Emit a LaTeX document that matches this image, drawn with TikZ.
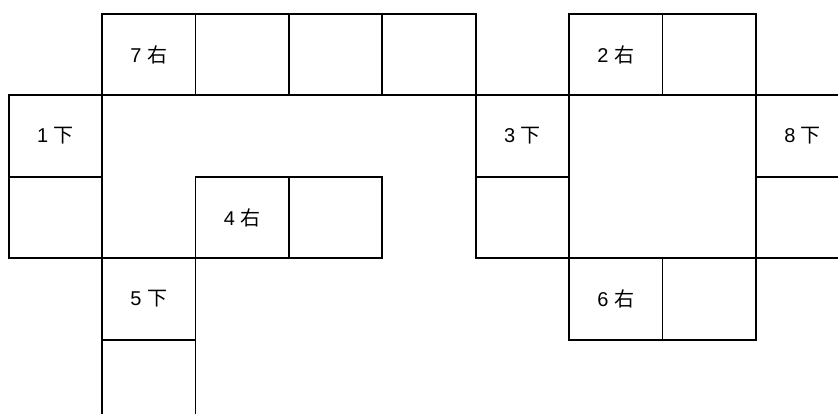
\documentclass[tikz,border=0pt]{standalone}
\usepackage{fontspec}
\setmainfont{Liberation Sans}
\newfontfamily\cjk{Noto Sans CJK SC}
\usetikzlibrary{positioning}

\begin{document}
\begin{tikzpicture}[x=1pt, y=1pt, node distance=0pt,
        cell/.style={rectangle, draw=black, line width=1.9pt, minimum width=93.4pt, minimum height=81.4pt, inner sep=0pt, outer sep=0pt, font=\fontsize{20}{24}\selectfont}]

        \clip (0,0) rectangle (838,414);

        % across words
        \node [cell] (across7a) at (148.8,359.3) {7 {\cjk 右}};
        \node [cell, right=of across7a] (across7b) {};
        \node [cell, right=of across7b] (across7c) {};
        \node [cell, right=of across7c] (across7d) {};

        \node [cell] (across2a) at (615.8,359.3) {2 {\cjk 右}};
        \node [cell, right=of across2a] (across2b) {};

        \node [cell] (across4a) at (242.2,196.5) {4 {\cjk 右}};
        \node [cell, right=of across4a] (across4b) {};

        \node [cell] (across6a) at (615.8,115.1) {6 {\cjk 右}};
        \node [cell, right=of across6a] (across6b) {};

        % down words
        \node [cell] (down1a) at (55.4,277.9) {1 {\cjk 下}};
        \node [cell, below=of down1a] (down1b) {};

        \node [cell] (down3a) at (522.4,277.9) {3 {\cjk 下}};
        \node [cell, below=of down3a] (down3b) {};

        \node [cell] (down8a) at (802.6,277.9) {8 {\cjk 下}};
        \node [cell, below=of down8a] (down8b) {};

        \node [cell] (down5a) at (148.8,115.1) {5 {\cjk 下}};
        \node [cell, below=of down5a] (down5b) {};
    \end{tikzpicture}
\end{document}
